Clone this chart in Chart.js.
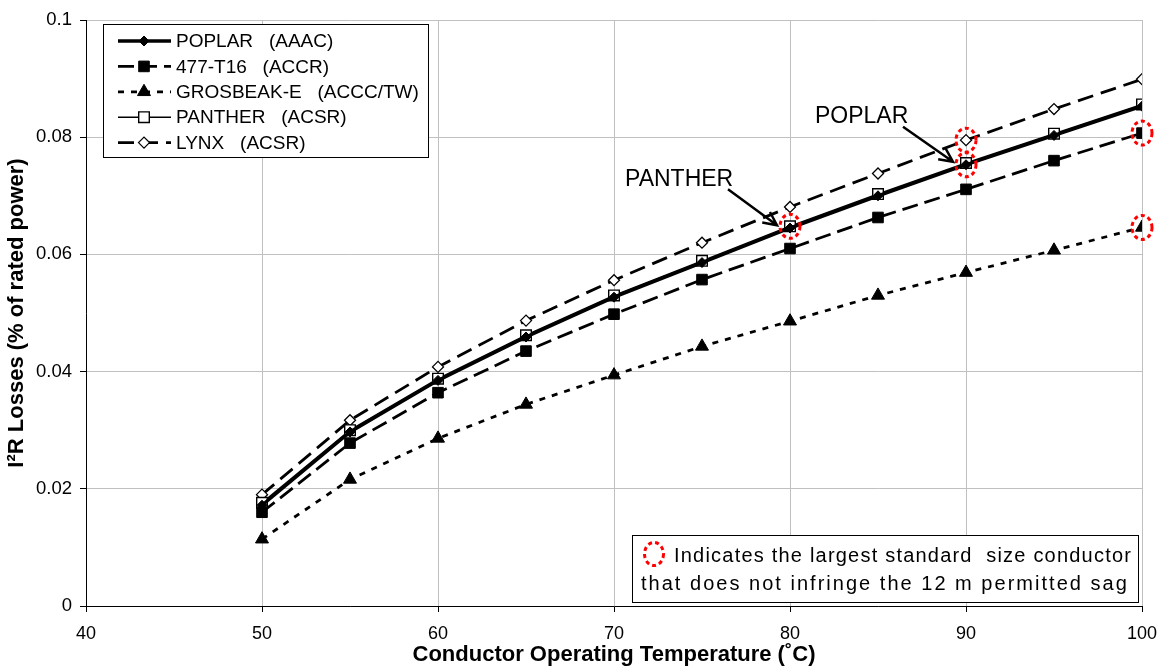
<!DOCTYPE html>
<html>
<head>
<meta charset="utf-8">
<title>I²R Losses vs Conductor Operating Temperature</title>
<script src="https://cdn.jsdelivr.net/npm/chart.js@4.4.1/dist/chart.umd.min.js"></script>
<style>
  html, body { margin: 0; padding: 0; background: #fff; }
  #wrap { width: 1160px; height: 666px; }
</style>
</head>
<body>
<div id="wrap"><canvas id="chart" width="1160" height="666"></canvas></div>
<script>
// values (losses in % of rated power)
const temps = [50, 55, 60, 65, 70, 75, 80, 85, 90, 95, 100];
const poplar = [0.0172, 0.0297, 0.0385, 0.0459, 0.0527, 0.0586, 0.0645, 0.0700, 0.0753, 0.0803, 0.0853];
const t16 = [0.0160, 0.0278, 0.0364, 0.0435, 0.0498, 0.0557, 0.0610, 0.0663, 0.0711, 0.0760, 0.0807];
const grosbeak = [0.0114, 0.0216, 0.0286, 0.0344, 0.0394, 0.0443, 0.0486, 0.0530, 0.0569, 0.0607, 0.0646];
const panther = [0.0176, 0.0300, 0.0388, 0.0462, 0.0530, 0.0589, 0.0648, 0.0703, 0.0756, 0.0806, 0.0856];
const lynx = [0.0190, 0.0317, 0.0408, 0.0487, 0.0556, 0.0620, 0.0681, 0.0738, 0.0795, 0.0848, 0.0899];

const seriesNames = ['POPLAR   (AAAC)', '477-T16   (ACCR)', 'GROSBEAK-E   (ACCC/TW)', 'PANTHER   (ACSR)', 'LYNX   (ACSR)'];

const xTickValues = [40, 50, 60, 70, 80, 90, 100];
const yTickValues = [0, 0.02, 0.04, 0.06, 0.08, 0.1];
const yTickLabels = ['0', '0.02', '0.04', '0.06', '0.08', '0.1'];

// points circled in red: [series index, temperature]
const sagLimitPoints = [[4, 90], [0, 90], [3, 80], [1, 100], [2, 100]];
const calloutNames = ['PANTHER', 'POPLAR'];
const calloutTemps = [80, 90];
const calloutSeries = [3, 0];
const noteLines = ['Indicates the largest standard  size conductor', 'that does not infringe the 12 m permitted sag'];

const FONT = "'Liberation Sans', Arial, sans-serif";

function series(label, values, style) {
    return Object.assign({
        label: label,
        data: temps.map((t, i) => ({ x: t, y: values[i] })),
        borderColor: '#000',
        pointBorderColor: '#000',
        pointBorderWidth: 1,
        tension: 0,
        fill: false
    }, style);
}

const datasets = [
    series(seriesNames[0], poplar, { borderWidth: 3.4, pointStyle: 'rectRot', pointRadius: 5, pointBackgroundColor: '#000' }),
    series(seriesNames[1], t16, { borderWidth: 2.8, borderDash: [16, 7], pointStyle: 'rect', pointRadius: 7.5, pointBackgroundColor: '#000' }),
    series(seriesNames[2], grosbeak, { borderWidth: 2.8, borderDash: [6, 7], pointStyle: 'triangle', pointRadius: 7.5, pointBackgroundColor: '#000' }),
    series(seriesNames[3], panther, { borderWidth: 1.5, pointStyle: 'rect', pointRadius: 7.5, pointBackgroundColor: '#fff', pointBorderWidth: 1.4 }),
    series(seriesNames[4], lynx, { borderWidth: 2.8, borderDash: [16, 8], pointStyle: 'rectRot', pointRadius: 5.5, pointBackgroundColor: '#fff', pointBorderWidth: 1.3 })
];

function arrow(ctx, x1, y1, x2, y2) {
    const a = Math.atan2(y2 - y1, x2 - x1), h = 15, s = 0.45;
    ctx.beginPath();
    ctx.moveTo(x1, y1);
    ctx.lineTo(x2, y2);
    ctx.moveTo(x2 - h * Math.cos(a - s), y2 - h * Math.sin(a - s));
    ctx.lineTo(x2, y2);
    ctx.lineTo(x2 - h * Math.cos(a + s), y2 - h * Math.sin(a + s));
    ctx.stroke();
}

function redRing(ctx, x, y, rx, ry) {
    ctx.save();
    ctx.strokeStyle = '#ff0000';
    ctx.lineWidth = 3;
    ctx.setLineDash([4, 3.2]);
    ctx.beginPath();
    ctx.ellipse(x, y, rx, ry, 0, 0, Math.PI * 2);
    ctx.stroke();
    ctx.restore();
}

// text stretched to a given width (the note box is justified)
function fitText(ctx, text, x, y, width) {
    ctx.letterSpacing = '0px';
    const w = ctx.measureText(text).width;
    if ('letterSpacing' in ctx && width > w) {
        ctx.letterSpacing = ((width - w) / text.length).toFixed(2) + 'px';
    }
    ctx.fillText(text, x, y);
    ctx.letterSpacing = '0px';
}

const extras = {
    id: 'extras',
    afterDatasetsDraw(chart) {
        const ctx = chart.ctx;
        const area = chart.chartArea;
        const xs = chart.scales.x, ys = chart.scales.y;
        const pt = (s, t) => {
            const i = temps.indexOf(t);
            return { x: xs.getPixelForValue(t), y: ys.getPixelForValue(datasets[s].data[i].y) };
        };

        // red rings
        sagLimitPoints.forEach(([s, t]) => {
            const p = pt(s, t);
            redRing(ctx, p.x, p.y, 10, 12);
        });

        // callouts with arrows
        ctx.save();
        ctx.strokeStyle = '#000';
        ctx.fillStyle = '#000';
        ctx.lineWidth = 2.5;
        ctx.font = '23px ' + FONT;
        ctx.textBaseline = 'alphabetic';
        const offs = [
            { tx: -165, ty: -40, ax: -62, ay: -37, bx: -13, by: -1 },
            { tx: -151, ty: -42, ax: -63, ay: -38, bx: -13, by: -3 }
        ];
        calloutNames.forEach((name, k) => {
            const p = pt(calloutSeries[k], calloutTemps[k]);
            const o = offs[k];
            ctx.fillText(name, p.x + o.tx, p.y + o.ty);
            arrow(ctx, p.x + o.ax, p.y + o.ay, p.x + o.bx, p.y + o.by);
        });
        ctx.restore();

        // legend
        ctx.save();
        const lx = area.left + 17, ly = area.top + 4, lw = 325, lh = 133;
        ctx.fillStyle = '#fff';
        ctx.fillRect(lx, ly, lw, lh);
        ctx.strokeStyle = '#000';
        ctx.lineWidth = 1;
        ctx.strokeRect(lx + 0.5, ly + 0.5, lw, lh);
        ctx.font = '19px ' + FONT;
        ctx.textBaseline = 'middle';
        datasets.forEach((ds, i) => {
            const y = ly + 17 + i * 25.4;
            ctx.strokeStyle = '#000';
            ctx.lineWidth = ds.borderWidth;
            ctx.setLineDash(ds.borderDash || []);
            ctx.beginPath();
            ctx.moveTo(lx + 15, y);
            ctx.lineTo(lx + 68, y);
            ctx.stroke();
            ctx.setLineDash([]);
            ctx.fillStyle = ds.pointBackgroundColor;
            ctx.lineWidth = ds.pointBorderWidth;
            Chart.helpers.drawPoint(ctx, {
                pointStyle: ds.pointStyle, radius: ds.pointRadius, rotation: 0, borderWidth: ds.pointBorderWidth
            }, lx + 41, y);
            ctx.fillStyle = '#000';
            ctx.fillText(ds.label, lx + 73, y + 1);
        });
        ctx.restore();

        // note box
        ctx.save();
        const nw = 506, nh = 67;
        const nx = area.right - 4 - nw, ny = area.bottom - 4 - nh;
        ctx.fillStyle = '#fff';
        ctx.fillRect(nx, ny, nw, nh);
        ctx.strokeStyle = '#000';
        ctx.lineWidth = 1;
        ctx.strokeRect(nx + 0.5, ny + 0.5, nw, nh);
        redRing(ctx, nx + 22, ny + 19, 9.5, 11.5);
        ctx.fillStyle = '#000';
        ctx.font = '20px ' + FONT;
        ctx.textBaseline = 'alphabetic';
        fitText(ctx, noteLines[0], nx + 42, ny + 27, 458);
        fitText(ctx, noteLines[1], nx + 9, ny + 55, 488);
        ctx.restore();
    }
};

new Chart(document.getElementById('chart'), {
    type: 'line',
    data: { datasets: datasets },
    options: {
        responsive: false,
        animation: false,
        devicePixelRatio: 1,
        layout: { padding: { top: 20, right: 18, left: 0, bottom: 0 } },
        plugins: { legend: { display: false }, tooltip: { enabled: false } },
        scales: {
            x: {
                type: 'linear',
                min: 40,
                max: 100,
                afterBuildTicks: s => { s.ticks = xTickValues.map(v => ({ value: v })); },
                afterFit: s => { s.height = 60; s.paddingLeft = 0; s.paddingRight = 0; },
                ticks: { color: '#000', font: { family: FONT, size: 18 }, padding: 11, maxRotation: 0, autoSkip: false },
                grid: { color: '#c0c0c0', tickColor: '#000', tickLength: 6, lineWidth: 1 },
                border: { color: '#000', width: 1 },
                title: {
                    display: true,
                    text: 'Conductor Operating Temperature (˚C)',
                    color: '#000',
                    font: { family: FONT, size: 22, weight: 'bold', lineHeight: 1 },
                    padding: { top: 0, bottom: 0 }
                }
            },
            y: {
                min: 0,
                max: 0.1,
                afterBuildTicks: s => { s.ticks = yTickValues.map(v => ({ value: v })); },
                afterFit: s => { s.width = 86; s.paddingTop = 0; s.paddingBottom = 0; },
                ticks: {
                    color: '#000',
                    font: { family: FONT, size: 18.5 },
                    padding: 8,
                    callback: (v) => yTickLabels[yTickValues.indexOf(v)] ?? ''
                },
                grid: { color: '#c0c0c0', tickColor: '#000', tickLength: 6, lineWidth: 1 },
                border: { color: '#000', width: 1 },
                title: {
                    display: true,
                    text: 'I²R Losses (% of rated power)',
                    color: '#000',
                    font: { family: FONT, size: 22, weight: 'bold', lineHeight: 1 },
                    padding: { top: 6, bottom: 0 }
                }
            }
        }
    },
    plugins: [extras]
});
</script>
</body>
</html>
